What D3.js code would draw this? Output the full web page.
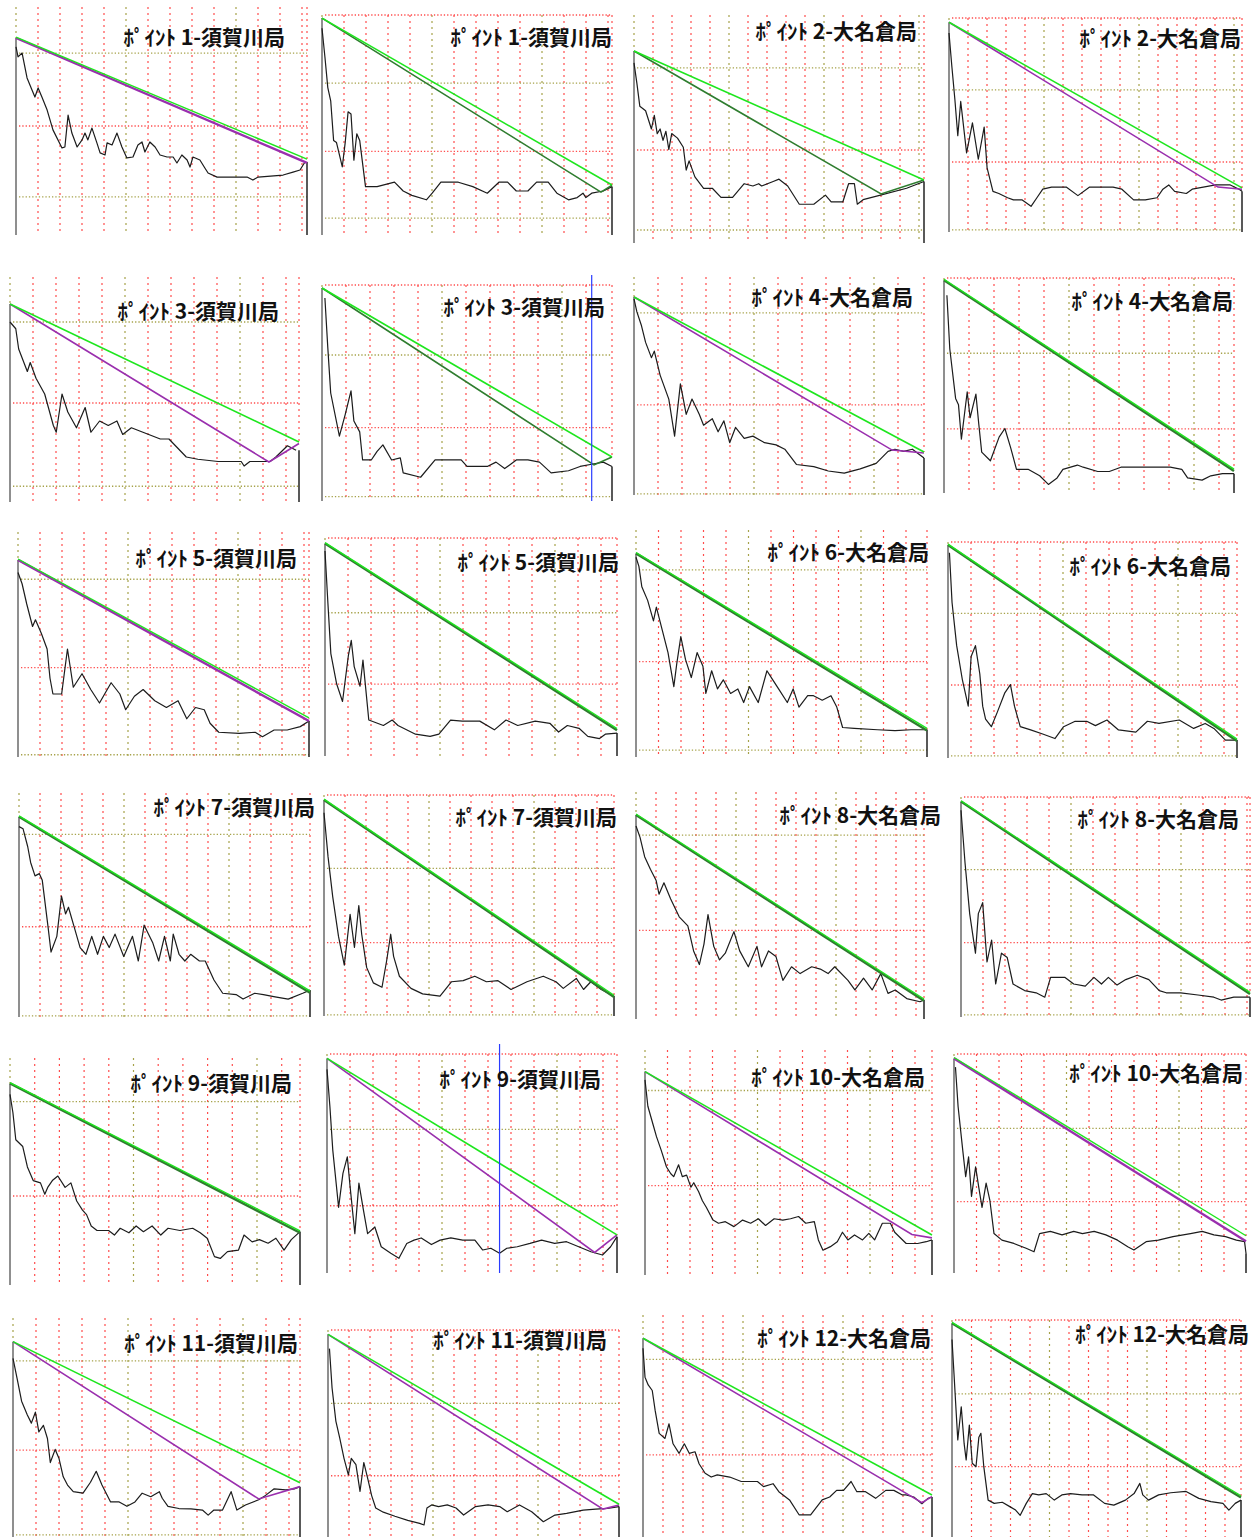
<!DOCTYPE html>
<html>
<head>
<meta charset="utf-8">
<script src="https://cdn.jsdelivr.net/npm/d3@7"></script>
<style>
  body { margin: 0; background: #fff; }
  svg { display: block; }
</style>
</head>
<body>
<div id="chart"></div>
<script>
// ---- data (x = distance %, y = level %) ----
const titles = [
  "ﾎﾟｲﾝﾄ 1-須賀川局", "ﾎﾟｲﾝﾄ 1-須賀川局", "ﾎﾟｲﾝﾄ 2-大名倉局", "ﾎﾟｲﾝﾄ 2-大名倉局",
  "ﾎﾟｲﾝﾄ 3-須賀川局", "ﾎﾟｲﾝﾄ 3-須賀川局", "ﾎﾟｲﾝﾄ 4-大名倉局", "ﾎﾟｲﾝﾄ 4-大名倉局",
  "ﾎﾟｲﾝﾄ 5-須賀川局", "ﾎﾟｲﾝﾄ 5-須賀川局", "ﾎﾟｲﾝﾄ 6-大名倉局", "ﾎﾟｲﾝﾄ 6-大名倉局",
  "ﾎﾟｲﾝﾄ 7-須賀川局", "ﾎﾟｲﾝﾄ 7-須賀川局", "ﾎﾟｲﾝﾄ 8-大名倉局", "ﾎﾟｲﾝﾄ 8-大名倉局",
  "ﾎﾟｲﾝﾄ 9-須賀川局", "ﾎﾟｲﾝﾄ 9-須賀川局", "ﾎﾟｲﾝﾄ 10-大名倉局", "ﾎﾟｲﾝﾄ 10-大名倉局",
  "ﾎﾟｲﾝﾄ 11-須賀川局", "ﾎﾟｲﾝﾄ 11-須賀川局", "ﾎﾟｲﾝﾄ 12-大名倉局", "ﾎﾟｲﾝﾄ 12-大名倉局"
];

// straight reference lines
const lineStart = [86.4, 98.6, 84.2, 98, 88, 98.6, 90.8, 99, 87.6, 97.5, 89.7, 98.6,
                   89.4, 97.7, 89.9, 97.9, 88.8, 98, 90.4, 98, 89.2, 97.9, 89.5, 98.5];
const greenEnd  = [32.9, 22.7, 27.6, 20.6, 26.7, 20.4, 19.7, 10.7, 17, 12.2, 12.2, 8.3,
                   11.3, 9, 8.4, 10.8, 23.5, 17.4, 17.8, 16.6, 24.8, 15.8, 18.9, 18.6];
const secondEnd = [31.6, 22.7, 27.6, 20, 26, 20.4, 19.3, 10.2, 16, 11.8, 11.7, 7.9,
                   10.8, 8.6, 8, 10.4, 23, 17.4, 16.5, 14.5, 23, 15.5, 18.2, 18.2];
const secondKnee = [null, [96.2, 19.5], [85.2, 21.5], [91.8, 21], [89.6, 17.8], [93.8, 16.7], [89, 20.6], null,
                    null, null, null, null, null, null, null, null,
                    null, [92.3, 9.4], [93, 18], null, [85.6, 17.4], [94.5, 13.5], [96.5, 15.5], null];
const secondKind = ["P", "D", "D", "P", "P", "D", "P", "D", "P", "D", "D", "D",
                    "D", "D", "D", "D", "D", "P", "P", "P", "P", "P", "P", "D"];
const cursorAt = [null, null, null, null, null, 93, null, null, null, null, null, null,
                  null, null, null, null, null, 59.5, null, null, null, null, null, null];

// horizontal grid levels
const oliveLevels = [[79.8, 16.7], [69, 7.7], [76.8, 5.7], [66.4, 1], [80, 7], [67.6, 2], [83.5, 0.5], [65],
                     [79, 1], [65.7], [82.4, 3], [67, 1], [81.5, 0.5], [66.8, 0.5], [81], [67, 1],
                     [80.8], [65.6], [82], [66], [80.4, 1], [64.6], [80], [66]];
const redLevels = [[47.8], [100, 38], [40.8], [100, 32.7], [44], [100, 34], [41.3], [100, 29.8],
                   [39.7], [100, 33], [42], [100, 33.8], [40.3], [100, 33.2], [39], [100, 33.8],
                   [39.2], [100, 30.7], [39.7], [100, 32.6], [39.7], [100, 29.6], [37], [100, 32.4]];

// measured traces
const trace01 = [[0,82.5],[0.7,78.1],[2.1,79.8],[3.8,68.9],[5.5,63.6],[6.5,60.5],[7.6,64.5],[8.9,60.5],[10.7,54.8],[12.7,46.1],[15.8,38.2],[16.8,38.6],[17.9,52.6],[19.2,44.7],[21,38.6],[22.7,41.7],[23.7,44.7],[24.7,41.7],[26.1,46.9],[27.8,40.4],[28.9,36],[30.6,35.1],[31.3,40.4],[33,39.5],[34.7,44.7],[36.4,38.6],[38.1,33.8],[40.2,34.2],[41.9,39.5],[43.3,40.8],[44.3,36.4],[46,40.8],[47.8,38.6],[49.5,35.1],[51.9,34.2],[54,34.2],[55.3,31.6],[57,35.1],[58.8,32.9],[59.8,29.8],[60.8,34.2],[63.2,32.9],[64.9,29.4],[66,27.2],[69.1,25.4],[79.4,25.4],[81.4,24.1],[83.2,25.4],[91.8,26.3],[95.2,27.6],[97.6,28.5],[99.3,32]];
const trace02 = [[0,94],[1,81],[2,67],[3,61],[4,43],[5,42],[7,31],[8,42],[9,56],[10,55],[11,34],[12,46],[13,43],[15,22],[19,22],[25,24],[28,20],[31,18],[36,16],[38,19],[41,24],[47,24],[52,22],[57,19],[61,24],[64,24],[67,20],[69,20],[71,20],[74,24],[78,24],[81,19],[85,16],[88,17],[90,19],[91,17],[93,19],[97,20],[100,22]];
const trace03 = [[0,79],[1,70],[2,60],[4,58],[6,50],[7,56],[8,48],[9,50],[10,45],[11,49],[12,41],[13,48],[15,46],[17,42],[18,32],[19,36],[21,29],[24,24],[27,24],[30,20],[34,20],[38,26],[41,25],[43,26],[44,25],[48,27],[50,28],[53,25],[57,17],[62,17],[66,21],[68,18],[72,18],[74,26],[76,26],[77,17],[79,19],[85,21],[94,24],[100,27]];
const trace04 = [[0,93],[1,77],[2,62],[3,45],[4,61],[6,37],[8,51],[10,34],[12,49],[13,30],[15,19],[17,18],[20,16],[22,15],[25,15],[28,12],[30,16],[32,20],[35,21],[40,21],[44,17],[48,21],[56,21],[59,20],[63,15],[67,15],[71,16],[73,20],[75,22],[77,19],[81,18],[83,20],[91,22],[96,22],[99,20],[100,19]];
const trace05 = [[0,80],[2,77],[3,68],[6,58],[7,62],[9,55],[12,48],[15,34],[16,31],[18,48],[20,40],[23,33],[26,42],[28,31],[31,36],[34,34],[37,36],[39,30],[42,33],[46,31],[52,28],[55,28],[58,24],[61,20],[65,19],[72,18],[80,18],[81,16],[83,18],[90,18],[92,20],[96,25],[99,23]];
const trace06 = [[1,94],[2,71],[3,50],[6,30],[8,40],[10,51],[11,37],[13,32],[14,19],[17,19],[19,23],[21,26],[24,19],[27,20],[28,13],[34,11],[39,19],[48,19],[50,16],[57,16],[60,18],[63,15],[67,19],[71,19],[75,18],[79,13],[85,14],[89,16],[93,17],[97,18],[100,16]];
const trace07 = [[0,90],[1,84],[2.5,78],[4,70],[6,63],[7,66],[9,55],[12,44],[14,27],[16,51],[18,37],[20,44],[22.5,37],[24,32],[27,35],[29,29],[31,34],[33,24],[35,31],[38,26],[41,27],[45,24],[49,23],[52,21],[56,14],[62,13],[67,11],[72.5,10],[78,12],[83.5,14.5],[87.6,20],[90,21],[93,20],[96,21],[100,17]];
const trace08 = [[1,92],[2,67],[4,44],[5,41],[6,25],[8,47],[9,35],[11,46],[12,32],[13,19],[16,15],[19,26],[21,30],[23,21],[25,11],[29,11],[33,8],[36,4],[39,7],[41,11],[46,13],[48,12],[53,10],[57,10],[61,12],[66,12],[72,12],[78,12],[82,11],[84,7],[89,6],[92,8],[96,9],[100,9]];
const trace09 = [[0,82],[1.4,77],[3,68],[5,58],[6,61],[8,55],[10,48],[11,35],[12,28],[15,28],[17,48],[19,31],[22,37],[25,30],[28,24],[32,33],[35,28],[37,21],[40,27],[43,30],[47,25],[51,22],[55,25],[58,17],[61,22],[64,21],[66,15],[69,11],[76,10.5],[81.5,11],[84,9],[88,12],[92.5,12],[97,13.5],[100,16]];
const trace10 = [[0,94],[1,70],[2,47],[4,33],[6,25],[8,46],[9,53],[10,41],[12,32],[13,44],[15,16.5],[20,14],[23,16.5],[25,14],[31,10],[36,9],[39,10],[43,16.5],[47,16],[53,16],[58,12],[62,16.5],[66,14],[72,16],[77,15],[80,11],[83,14],[87,12.7],[90,9],[94,8],[96,10],[100,10.5]];
const trace11 = [[0,88],[1,84],[2,75],[4,69],[6,60],[7,66],[9,56],[11,46],[13,31],[14,41],[15.4,53],[17,43],[19,35],[21,46],[23,40],[24,28],[26,38],[28,30],[30,34],[32.5,28],[35,30],[37,24],[39,31],[42,24],[45,38],[47,34],[49,30],[52,24],[54,30],[56,22],[59,27],[61,27],[64,25],[67,27],[69,22],[71,13],[75,12.6],[83,12],[89,11.6],[94.5,12],[100,12]];
const trace12 = [[0.5,95],[1.4,72],[3,52],[5,36],[7,24],[8,47],[9.5,52],[11,39],[12,24],[13,18],[15,14.5],[17,21],[19.6,30],[21.6,34],[23,24],[25,14.5],[28.6,13],[33,11],[37,9],[40,14.5],[44,17],[48,17],[51,15],[55,17.6],[59,13],[65,12],[69,17],[73,16],[80,17.6],[85,13.7],[89,16],[92,13.7],[96,8.3],[100,8.3]];
const trace13 = [[0,85],[1.4,84],[3,76],[4,69],[5.5,63],[7,64],[8,61],[10,40],[11,29],[13,36],[14.6,54],[16,46],[17,49],[19,40],[21,31],[23,28],[25,36],[27,28],[29,36],[31,31],[33,37],[36,27],[39,36],[41,25],[43,41],[46,33],[48,25],[50,36],[52,25],[53,37],[55,28],[57,25],[59,28],[62,25],[64,25],[67,16.5],[70,10.6],[74.6,10],[77,8],[81,10.6],[84,10],[88,9],[92.5,8],[97.5,10.6],[100,12]];
const trace14 = [[0,92],[1.4,72],[3,54],[5,36],[7,23],[9,46],[10.5,31],[12,50],[13,37],[14.7,22],[17,15],[20,13],[21.6,25],[23,37],[24,27],[26,18],[30,12.5],[34,10],[40,9],[44,15.5],[48,16],[52,18],[56,15.5],[60,16],[64.5,12],[70,15.5],[75.6,18],[80,15.5],[82.5,12.5],[87,17],[89.5,12],[92,15.5],[95.6,12],[100,9]];
const trace15 = [[0,85],[1.4,80],[3,71.5],[5,66],[7,61],[8,55],[9.7,60],[12,53],[15,45],[18,41],[20,30],[22,24],[23.6,33],[25,46],[27,32],[29,26],[31,29],[34,38.5],[36,30],[39,23],[42,32],[43.6,23],[46,30],[48.6,27.5],[51,17],[54,23],[57,20],[61,23],[64,22],[66.7,20],[69,23],[73.6,17],[76,12.8],[79,18],[82,12.8],[85,20],[87.5,11.3],[90,12.8],[94,9],[98.6,7.6],[100,8.4]];
const trace16 = [[0,94],[1.4,70],[3,47],[5,29],[6,47],[7.5,52],[9,25],[10.6,35],[12,15],[14,29],[16,27],[18,15],[22,12],[26,11],[29,9],[31,18],[36,18],[39,15],[43,14],[46,18],[48.6,15],[51,18],[54,14.5],[57,17],[61,19],[65,17],[68.6,12],[71,11],[76,11],[82,10],[87.5,9],[90,7.7],[94.4,9],[100,9]];
const trace17 = [[0,84],[1,76],[2,64],[4.4,61],[6,52],[8,46],[10.5,45],[12,40],[13,43],[14.6,46],[16.5,48],[19,43],[21,45],[23,37],[25,33],[26.4,31],[28,26],[30,24],[34,24],[36,22],[38,25],[41,23],[43.5,26],[46,23.5],[49,26],[52,22],[54.5,25],[58.6,24],[63,25],[65.6,23],[68,20.6],[70.5,12.5],[72.5,11.7],[75,14.7],[78.8,15.4],[80.7,22],[83.5,19],[86,20],[89,18.4],[91.7,20.6],[94.5,15.4],[97,20],[100,23.5]];
const trace18 = [[0,93],[1,76],[2,56],[4,30],[5.5,45.5],[7,53],[8,39],[9.6,18],[11,41],[12.4,30],[14,18],[16.5,21],[18.7,12],[22,9],[24.8,6.7],[27.5,13.5],[30,15],[32.5,16],[36,13],[39,15],[42.7,16],[46.8,15],[51,15],[53.7,10.5],[56.5,11.3],[59.5,9],[62,11.3],[65.6,12],[70,13.5],[74,15],[78.5,13.5],[82.6,14.3],[86.8,12],[91,9.7],[95,8.2],[97.8,12],[100,16.6]];
const trace19 = [[0,86.7],[1,75],[3,66],[4,61.5],[5.6,55.6],[7.5,48],[9,45],[10,43.7],[11.7,49],[13,43.7],[14.5,44.4],[16,39],[17,41],[18.7,37],[20,33],[21.4,30],[23.7,24.4],[25.6,23],[28,23.7],[31,21.5],[34,24.4],[36.8,23],[39.5,25],[42,22],[45,25],[48,24.4],[50.7,25],[53.5,26],[56,23],[59,23.7],[60.4,15.6],[62,11],[64.6,12.6],[67,14.8],[68.8,19],[70.7,15.6],[73,17.8],[75.8,15.6],[78,18.5],[80,15.6],[82.7,23],[85.5,23],[87,19],[91,14],[95,14],[98,14.8],[100,15.6]];
const trace20 = [[0.5,94],[1.4,76],[3,56],[4,44],[5,53],[6,35],[7.4,48.5],[8.5,39],[9.6,30],[11,41],[12.3,33],[13.7,18],[16.4,15],[20.5,13.5],[24.7,11.3],[27.4,9.7],[29.3,18],[33,19],[37,17.4],[41,19],[44,18],[48,19],[52,17.4],[56,15],[59.5,12],[61.6,10.5],[65.8,14.3],[70,15],[75,16.6],[81,18],[85,19],[89,17.4],[93,16.6],[96.7,15],[99.5,14.3],[100,9]];
const trace21 = [[0,81.6],[1.4,72.5],[3,62],[5,55.7],[6.4,52],[7.8,57],[9,48],[10.6,51],[12,45],[13,34],[14.7,40],[16,36],[17.5,27.5],[19,23.7],[21,20.7],[24.4,20],[27,25],[29,30],[31,23.7],[34,16],[37,16],[39.7,14],[42.5,16],[45,20],[48,18.4],[51,20.7],[52,17.7],[54,14],[57.8,13],[62,12.8],[66,12.3],[68,10],[70,12.3],[73,12.3],[76,20.7],[78,12.3],[81,14.6],[85.6,17],[88,19],[91,22],[95,21.5],[98,22],[100,23]];
const trace22 = [[0.5,91],[1.4,72],[2.7,56],[4,48],[5.5,38],[7,30],[8,38],[9.6,35],[11,22],[12.3,36],[13.7,28],[15,20],[16.4,14],[19,12],[23,10],[27.4,8],[31.5,6.6],[33,5.8],[34,14],[35.6,15.5],[38,14.7],[41,15.5],[44,14],[46.6,10.6],[50.7,14.7],[55,15.5],[59,14.7],[61.6,12.2],[65.8,15.5],[70,12.2],[74,7.4],[78,10.6],[82,11.4],[87.7,13],[92,13.5],[96,13.8],[100,14.7]];
const trace23 = [[0,85],[0.7,72],[1.8,68.5],[3.2,66],[4.2,57],[5.6,46.7],[7.6,44.4],[9,51],[10.4,42],[12.5,37.7],[14.3,42],[16,37.7],[18,38.4],[19.4,33],[21.5,28.7],[23.6,27],[25.7,28],[30,27],[34,25],[39.6,25],[41.7,22.7],[45,24],[47,20.4],[50.7,16.7],[54,10],[58,10],[62,16.7],[64.6,18],[67,21],[69.4,21],[72,25],[74,20.4],[77,20.4],[80.5,17.4],[84,21],[86.8,21],[89.6,19],[91,19],[93.7,18],[96.5,15],[98.6,17.4],[100,18]];
const trace24 = [[0,91],[0.7,75],[1.4,58.5],[2,44.7],[3.2,60],[4.2,43],[4.9,35.5],[6,51.6],[7,34],[8.3,32.4],[9.3,46],[10,47.8],[11,32.4],[12.5,17],[14.6,15.5],[17.4,16],[20,14],[22,12.4],[23.6,10],[25.7,15.5],[27.8,20],[30,19.4],[32.6,20],[35.4,17],[38,19.4],[41,20],[45,19.4],[49,19.4],[52.8,15.5],[56,14.7],[60,17],[63,20],[65,24.7],[66,19.4],[68,17],[71.5,19.4],[75.7,20.4],[81,21],[85.4,17.8],[89.6,16.3],[93.75,15.5],[95.8,12.4],[98,15.5],[100,17]];
const traces = [trace01, trace02, trace03, trace04, trace05, trace06, trace07, trace08,
                trace09, trace10, trace11, trace12, trace13, trace14, trace15, trace16,
                trace17, trace18, trace19, trace20, trace21, trace22, trace23, trace24];

// ---- layout: panel plot box [left, top, right, bottom], title anchor, grid spacing (px) ----
const boxes = [
  [16, 7, 307, 235], [322, 15, 612, 235], [634, 15, 924, 243], [949, 18, 1242, 232],
  [10, 277, 299, 502], [322, 285, 612, 501], [634, 277, 924, 495], [944, 278, 1234, 493],
  [18, 532, 309, 757], [325, 538, 617, 756], [636, 530, 927, 757], [948, 542, 1237, 758],
  [19, 793, 310, 1017], [324, 795, 614, 1016], [636, 792, 924, 1019], [961, 797, 1250, 1017],
  [10, 1058, 300, 1285], [327, 1054, 617, 1273], [645, 1050, 932, 1275], [954, 1054, 1246, 1273],
  [13, 1318, 300, 1537], [328, 1330, 619, 1537], [643, 1315, 932, 1537], [952, 1320, 1241, 1537]
];
const titleAt = [
  [285, 37], [612, 37], [917, 31], [1241, 38],
  [279, 311], [605, 307], [913, 297], [1233, 301],
  [297, 558], [619, 562], [929, 552], [1231, 566],
  [315, 807], [617, 817], [941, 815], [1239, 819],
  [292, 1083], [601, 1079], [925, 1077], [1243, 1073],
  [298, 1343], [607, 1340], [931, 1338], [1249, 1334]
];
const gridStep = [22, 22, 19, 19, 23, 24, 24, 25, 22, 23, 22.5, 23,
                  21, 21, 20, 22, 24.7, 23, 22.5, 22.5, 23, 21, 20, 19.5];

const RED = "#ff4d4d", OLIVE = "#a6a24a", GREEN = "#1ee61e",
      PURPLE = "#9a2fae", DARKGREEN = "#2f7d2f";

const svg = d3.select("#chart").append("svg")
    .attr("width", 1252)
    .attr("height", 1537);

traces.forEach((trace, i) => {
  const [L, T, R, B] = boxes[i];
  const x = d3.scaleLinear().domain([0, 100]).range([L, R]);
  const y = d3.scaleLinear().domain([0, 100]).range([B, T]);
  const line = d3.line().x(d => x(d[0])).y(d => y(d[1]));
  const g = svg.append("g");

  // vertical dotted grid
  const stepPct = gridStep[i] / (R - L) * 100;
  const vTicks = d3.range(1, Math.floor(100 / stepPct + 0.15) + 1).map(k => k * stepPct).filter(v => v < 99);
  g.selectAll(".vgrid").data(vTicks).enter().append("line")
      .attr("x1", d => x(d)).attr("x2", d => x(d))
      .attr("y1", y(100)).attr("y2", y(0))
      .attr("stroke", (d, k) => (k + 1) % 5 === 0 ? OLIVE : RED)
      .attr("stroke-width", 1.2)
      .attr("stroke-dasharray", "2,4");

  // dotted stubs above the axis ends
  g.append("line")
      .attr("x1", x(0)).attr("x2", x(0)).attr("y1", y(100)).attr("y2", y(lineStart[i]))
      .attr("stroke", OLIVE).attr("stroke-width", 1.2).attr("stroke-dasharray", "2,4");
  g.append("line")
      .attr("x1", x(100)).attr("x2", x(100)).attr("y1", y(100)).attr("y2", y(greenEnd[i]))
      .attr("stroke", RED).attr("stroke-width", 1.2).attr("stroke-dasharray", "2,4");

  // horizontal dotted grid
  const hData = oliveLevels[i].map(v => ({v, c: OLIVE})).concat(redLevels[i].map(v => ({v, c: RED})));
  g.selectAll(".hgrid").data(hData).enter().append("line")
      .attr("x1", x(0) + 3).attr("x2", x(100))
      .attr("y1", d => y(d.v)).attr("y2", d => y(d.v))
      .attr("stroke", d => d.c)
      .attr("stroke-width", 1.3)
      .attr("stroke-dasharray", "1.3,2");

  // axis edges
  g.append("line")
      .attr("x1", x(0)).attr("x2", x(0)).attr("y1", y(lineStart[i])).attr("y2", y(0))
      .attr("stroke", "#6a6a6a").attr("stroke-width", 1.5);
  const last = trace[trace.length - 1];
  g.append("line")
      .attr("x1", x(100)).attr("x2", x(100)).attr("y1", y(last[1])).attr("y2", y(0))
      .attr("stroke", "#222").attr("stroke-width", 1.5);

  // measured trace
  g.append("path").datum(trace)
      .attr("d", line)
      .attr("fill", "none")
      .attr("stroke", "#1c1c1c")
      .attr("stroke-width", 1.2)
      .attr("stroke-linejoin", "round");

  // reference lines
  const second = [[0, lineStart[i]]];
  if (secondKnee[i]) second.push(secondKnee[i]);
  second.push([100, secondEnd[i]]);
  const green = [[0, lineStart[i]], [100, greenEnd[i]]];
  const overlap = !secondKnee[i];

  g.append("path").datum(second)
      .attr("d", line)
      .attr("fill", "none")
      .attr("stroke", secondKind[i] === "P" ? PURPLE : DARKGREEN)
      .attr("stroke-width", overlap ? 2.4 : 1.6);
  g.append("path").datum(green)
      .attr("d", line)
      .attr("fill", "none")
      .attr("stroke", GREEN)
      .attr("stroke-width", overlap ? 1.4 : 1.6)
      .attr("transform", overlap ? "translate(0,-0.9)" : null);

  // cursor marker
  if (cursorAt[i] != null) {
    g.append("line")
        .attr("x1", x(cursorAt[i])).attr("x2", x(cursorAt[i]))
        .attr("y1", y(100) - 10).attr("y2", y(0))
        .attr("stroke", "#2a3cff").attr("stroke-width", 1.2);
  }

  // title
  g.append("text")
      .attr("x", titleAt[i][0])
      .attr("y", titleAt[i][1])
      .attr("dy", "0.36em")
      .attr("text-anchor", "end")
      .attr("font-family", "'Noto Sans CJK JP', 'Noto Sans', sans-serif")
      .attr("font-size", 21)
      .attr("font-weight", 700)
      .attr("fill", "#111")
      .text(titles[i]);
});
</script>
</body>
</html>
